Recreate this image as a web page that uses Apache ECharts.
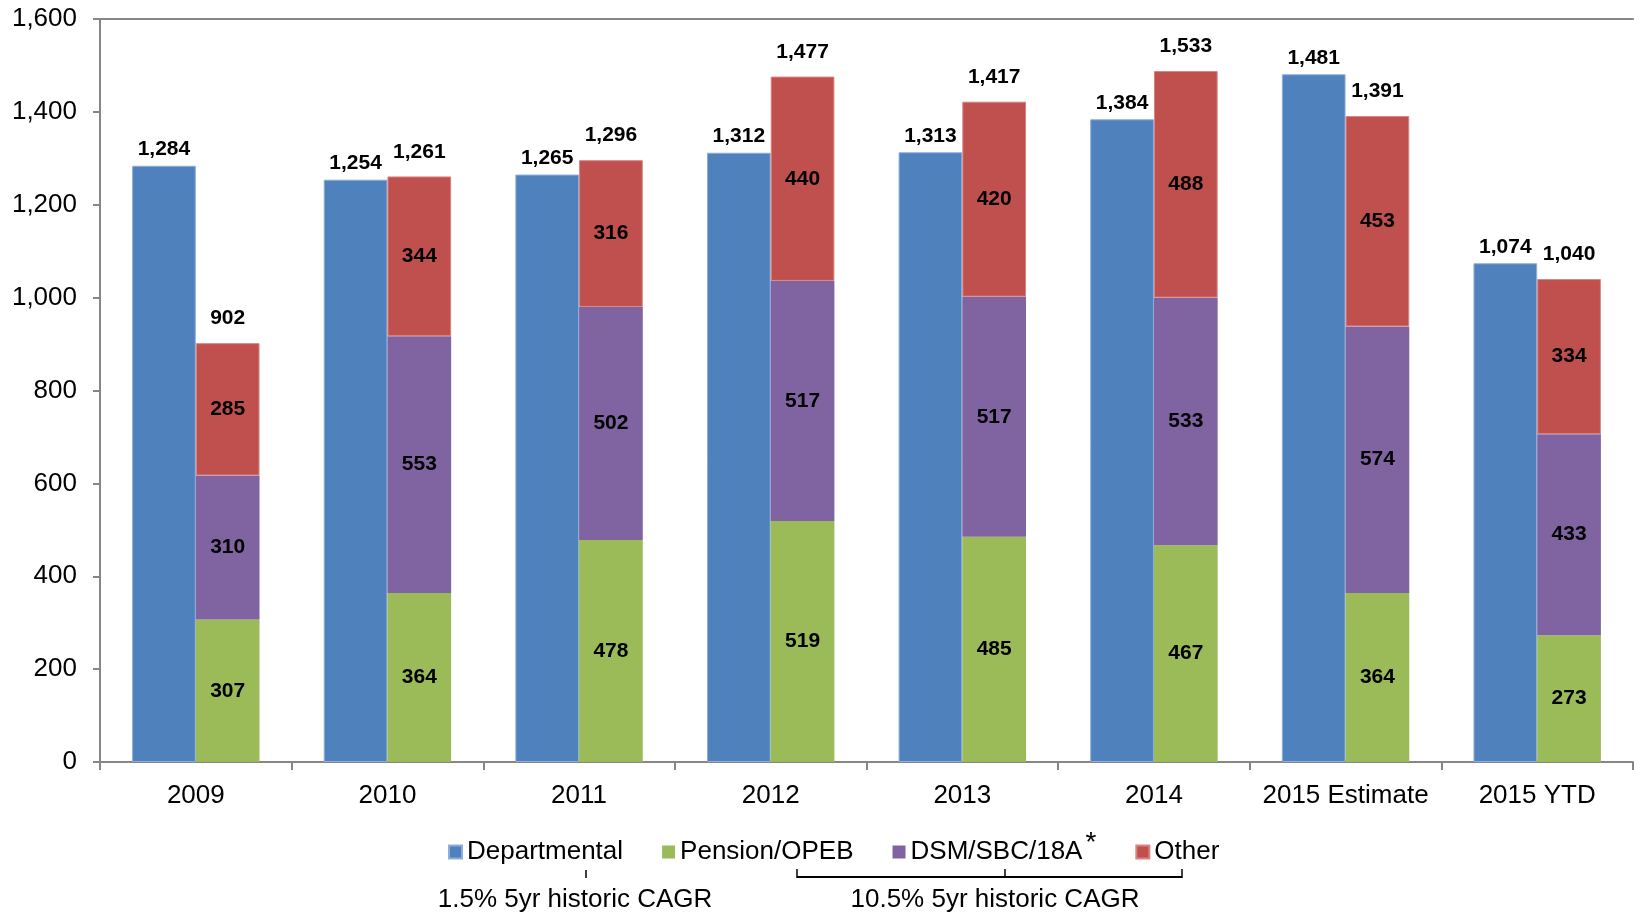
<!DOCTYPE html>
<html>
<head>
<meta charset="utf-8">
<script src="https://cdn.jsdelivr.net/npm/echarts@6/dist/echarts.min.js"></script>
<style>
  html, body { margin: 0; padding: 0; background: #fff; }
  #chart { width: 1634px; height: 914px; }
</style>
</head>
<body>
<div id="chart"></div>
<script>
// Categories (x axis)
const years = ['2009', '2010', '2011', '2012', '2013', '2014', '2015 Estimate', '2015 YTD'];

// Departmental spend (single bar, left of each pair)
const departmental = [1284, 1254, 1265, 1312, 1313, 1384, 1481, 1074];

// Stacked components (right bar of each pair)
const pensionOpeb = [307, 364, 478, 519, 485, 467, 364, 273];
const dsmSbc18a   = [310, 553, 502, 517, 517, 533, 574, 433];
const other       = [285, 344, 316, 440, 420, 488, 453, 334];

// Reported totals printed above the stacked bars
const stackTotals = [902, 1261, 1296, 1477, 1417, 1533, 1391, 1040];

// Y axis scale
const yMin = 0, yMax = 1600, yStep = 200;

const FONT = "'Liberation Sans', Arial, sans-serif";
const COLORS = {
  dept: '#4F81BD',
  pension: '#9BBB59',
  dsm: '#8064A2',
  other: '#C0504D'
};
const AXIS_GREY = '#868686';

const fmt = v => v.toLocaleString('en-US');

const insideLabel = {
  show: true,
  position: 'inside',
  color: '#000',
  fontFamily: FONT,
  fontWeight: 'bold',
  fontSize: 21,
  formatter: p => fmt(p.value)
};

const chart = echarts.init(document.getElementById('chart'), null, { renderer: 'canvas' });

const option = {
  animation: false,
  backgroundColor: '#fff',
  grid: { left: 100, right: 1, top: 19, bottom: 152, containLabel: false },
  legend: {
    data: ['Departmental', 'Pension/OPEB', 'DSM/SBC/18A', 'Other'],
    left: 448,
    top: 829,
    padding: 0,
    icon: 'rect',
    itemWidth: 13,
    itemHeight: 13,
    itemGap: 39,
    textStyle: {
      color: '#000',
      fontFamily: FONT,
      fontSize: 26,
      rich: {
        sup: { fontFamily: FONT, fontSize: 28, color: '#000', padding: [0, 0, 18, 3] }
      }
    },
    formatter: name => name === 'DSM/SBC/18A' ? name + '{sup|*}' : name
  },
  xAxis: [
    {
      type: 'category',
      data: years,
      position: 'bottom',
      axisLine: { lineStyle: { color: AXIS_GREY, width: 2 } },
      axisTick: { show: true, length: 8, lineStyle: { color: AXIS_GREY, width: 2 } },
      axisLabel: { color: '#000', fontFamily: FONT, fontSize: 26, margin: 21, interval: 0 }
    },
    {
      // plain frame line along the top of the plot
      type: 'category',
      data: years,
      position: 'top',
      axisLine: { show: true, lineStyle: { color: AXIS_GREY, width: 2 } },
      axisTick: { show: false },
      axisLabel: { show: false }
    }
  ],
  yAxis: {
    type: 'value',
    min: yMin,
    max: yMax,
    interval: yStep,
    axisLine: { show: true, lineStyle: { color: AXIS_GREY, width: 2 } },
    axisTick: { show: true, length: 7, lineStyle: { color: AXIS_GREY, width: 2 } },
    splitLine: { show: false },
    axisLabel: { color: '#000', fontFamily: FONT, fontSize: 26, margin: 23 }
  },
  series: [
    {
      name: 'Departmental',
      type: 'bar',
      data: departmental,
      barGap: '0%',
      barCategoryGap: '33.5%',
      itemStyle: { color: COLORS.dept, borderColor: '#8EAEDB', borderWidth: 1 },
      label: {
        show: true,
        position: 'top',
        distance: 6,
        color: '#000',
        fontFamily: FONT,
        fontWeight: 'bold',
        fontSize: 21,
        formatter: p => fmt(p.value)
      }
    },
    {
      name: 'Pension/OPEB',
      type: 'bar',
      stack: 'costs',
      data: pensionOpeb,
      itemStyle: { color: COLORS.pension },
      label: insideLabel
    },
    {
      name: 'DSM/SBC/18A',
      type: 'bar',
      stack: 'costs',
      data: dsmSbc18a,
      itemStyle: { color: COLORS.dsm },
      label: insideLabel
    },
    {
      name: 'Other',
      type: 'bar',
      stack: 'costs',
      data: other,
      itemStyle: { color: COLORS.other, borderColor: '#D98482', borderWidth: 1 },
      label: insideLabel
    },
    {
      // zero-height cap on the stack that carries the reported total
      name: 'Total',
      type: 'bar',
      stack: 'costs',
      data: stackTotals.map(() => 0),
      itemStyle: { color: 'rgba(0,0,0,0)' },
      silent: true,
      label: {
        show: true,
        position: 'top',
        distance: 14,
        color: '#000',
        fontFamily: FONT,
        fontWeight: 'bold',
        fontSize: 21,
        formatter: p => fmt(stackTotals[p.dataIndex])
      }
    }
  ],
  graphic: [
    // CAGR annotations below the legend
    { type: 'line', shape: { x1: 586, y1: 870, x2: 586, y2: 878 }, style: { stroke: '#000', lineWidth: 1.5 } },
    {
      type: 'text',
      style: { text: '1.5% 5yr historic CAGR', x: 575, y: 900, align: 'center', verticalAlign: 'middle',
               fill: '#000', font: "26px 'Liberation Sans', Arial, sans-serif" }
    },
    { type: 'line', shape: { x1: 797, y1: 877, x2: 1182, y2: 877 }, style: { stroke: '#000', lineWidth: 2 } },
    { type: 'line', shape: { x1: 797, y1: 869, x2: 797, y2: 878 }, style: { stroke: '#000', lineWidth: 1.5 } },
    { type: 'line', shape: { x1: 1005, y1: 869, x2: 1005, y2: 878 }, style: { stroke: '#000', lineWidth: 1.5 } },
    { type: 'line', shape: { x1: 1182, y1: 869, x2: 1182, y2: 878 }, style: { stroke: '#000', lineWidth: 1.5 } },
    {
      type: 'text',
      style: { text: '10.5% 5yr historic CAGR', x: 995, y: 900, align: 'center', verticalAlign: 'middle',
               fill: '#000', font: "26px 'Liberation Sans', Arial, sans-serif" }
    }
  ]
};

chart.setOption(option);
</script>
</body>
</html>
